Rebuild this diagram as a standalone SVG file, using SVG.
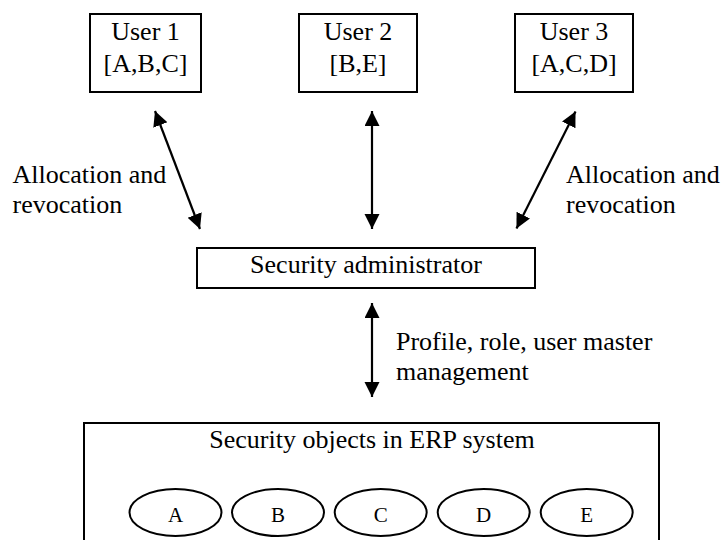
<svg xmlns="http://www.w3.org/2000/svg" width="723" height="540" viewBox="0 0 723 540">
<style>
text{font-family:"Liberation Serif","Times New Roman",serif;fill:#000}
.t{font-size:26px}
.s{font-size:21px}
.box{fill:#fff;stroke:#000;stroke-width:2}
.ell{fill:#fff;stroke:#000;stroke-width:2}
.con{stroke:#000;stroke-width:2.2;fill:none;marker-start:url(#ah);marker-end:url(#ah)}
</style>
<defs>
<marker id="ah" markerUnits="userSpaceOnUse" markerWidth="16" markerHeight="16" refX="15" refY="7.5" orient="auto-start-reverse">
<path d="M0,0 L15,7.5 L0,15 z" fill="#000"/>
</marker>
</defs>
<rect width="723" height="540" fill="#fff"/>
<g id="user1">
<rect class="box" x="90" y="14" width="111" height="78"/>
<text class="t" x="145.5" y="40" text-anchor="middle">User 1</text>
<text class="t" x="145.5" y="72" text-anchor="middle">[A,B,C]</text>
</g>
<g id="user2">
<rect class="box" x="299" y="14" width="118" height="78"/>
<text class="t" x="358" y="40" text-anchor="middle">User 2</text>
<text class="t" x="358" y="72" text-anchor="middle">[B,E]</text>
</g>
<g id="user3">
<rect class="box" x="515" y="14" width="118" height="78"/>
<text class="t" x="574" y="40" text-anchor="middle">User 3</text>
<text class="t" x="574" y="72" text-anchor="middle">[A,C,D]</text>
</g>
<g id="admin">
<rect class="box" x="197" y="248" width="338" height="40"/>
<text class="t" x="366" y="273" text-anchor="middle">Security administrator</text>
</g>
<g id="objects">
<rect class="box" x="84" y="423" width="575" height="130"/>
<text class="t" x="372" y="448" text-anchor="middle">Security objects in ERP system</text>
<g id="objA"><ellipse class="ell" cx="175.5" cy="512.5" rx="46" ry="23.5"/><text class="s" x="175.5" y="521.5" text-anchor="middle">A</text></g>
<g id="objB"><ellipse class="ell" cx="278" cy="512.5" rx="46" ry="23.5"/><text class="s" x="278" y="521.5" text-anchor="middle">B</text></g>
<g id="objC"><ellipse class="ell" cx="380.7" cy="512.5" rx="46" ry="23.5"/><text class="s" x="380.7" y="521.5" text-anchor="middle">C</text></g>
<g id="objD"><ellipse class="ell" cx="483.7" cy="512.5" rx="46" ry="23.5"/><text class="s" x="483.7" y="521.5" text-anchor="middle">D</text></g>
<g id="objE"><ellipse class="ell" cx="586.7" cy="512.5" rx="46" ry="23.5"/><text class="s" x="586.7" y="521.5" text-anchor="middle">E</text></g>
</g>
<g id="connectors">
<line class="con" x1="155" y1="111" x2="200" y2="229"/>
<line class="con" x1="372" y1="111" x2="372" y2="229"/>
<line class="con" x1="575.5" y1="111.5" x2="516.5" y2="228.5"/>
<line class="con" x1="372" y1="303" x2="372" y2="397"/>
</g>
<g id="labels">
<text class="t" x="12.5" y="183">Allocation and</text>
<text class="t" x="12.5" y="213">revocation</text>
<text class="t" x="566" y="183">Allocation and</text>
<text class="t" x="566" y="213">revocation</text>
<text class="t" x="396" y="350">Profile, role, user master</text>
<text class="t" x="396" y="380">management</text>
</g>
</svg>
